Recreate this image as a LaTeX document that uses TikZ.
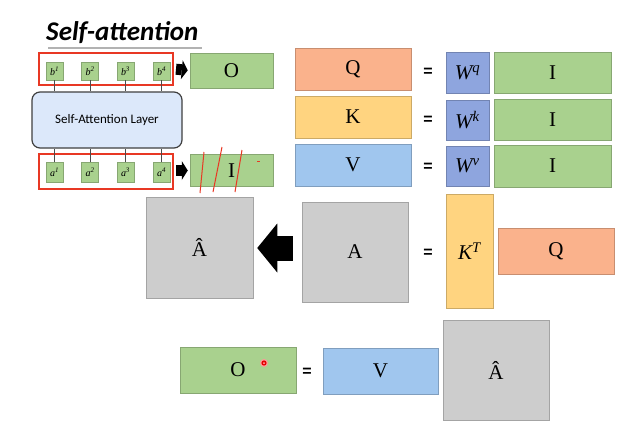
\documentclass[tikz,border=0pt]{standalone}
\usepackage{fontspec}
\usetikzlibrary{arrows.meta,calc}
\newfontfamily\carlito{Carlito}
\newfontfamily\serifmat{Liberation Serif}
\newfontfamily\eqfont{Liberation Sans}
\definecolor{cgreen}{RGB}{169,209,142}
\definecolor{corange}{RGB}{250,178,140}
\definecolor{cyellow}{RGB}{255,212,128}
\definecolor{cblue}{RGB}{160,198,238}
\definecolor{cwblue}{RGB}{142,165,222}
\definecolor{cgray}{RGB}{205,205,205}
\definecolor{clayer}{RGB}{220,232,250}
\definecolor{cred}{RGB}{232,56,36}
\newcommand{\supit}[2]{{\itshape #1}\textsuperscript{\itshape #2}}
\begin{document}
\begin{tikzpicture}[x=1pt,y=-1pt,
  mat/.style={draw=#1!80!black, fill=#1, line width=0.5pt, inner sep=0pt,
    font=\serifmat\fontsize{21}{21}\selectfont},
  vec/.style={draw=cgreen!80!black, fill=cgreen, line width=0.4pt, inner sep=0pt,
    minimum width=17pt, font=\serifmat\fontsize{10}{10}\selectfont},
  eqsign/.style={font=\eqfont\fontsize{16}{16}\selectfont\bfseries, inner sep=0pt},
  redframe/.style={draw=cred, line width=2pt, inner sep=0pt},
  blockarrow/.style={line width=11pt, -{Triangle[length=6pt,width=19pt,line width=0pt]}, shorten <=2pt, shorten >=2pt},
  bigarrow/.style={line width=25pt, -{Triangle[length=20pt,width=49pt,line width=0pt]}},
  slash/.style={draw=cred, line width=1pt}
]
\useasboundingbox[fill=white] (0,0) rectangle (641,431);

% title
\node[anchor=base west, inner sep=0pt, font=\carlito\fontsize{27}{27}\selectfont\bfseries\itshape] (title) at (46,41) {Self-attention};
\draw[gray!60, line width=1.5pt] (48,48) -- (202,48);

% self-attention layer
\node[draw=black!75, fill=clayer, line width=1.2pt, rounded corners=8pt,
  minimum width=150pt, minimum height=56pt, inner sep=0pt,
  font=\carlito\fontsize{13}{13}\selectfont] (layer) at (107,120) {Self-Attention Layer};

% input / output vectors
\node[redframe, minimum width=134pt, minimum height=32pt] (rtop) at (106,69) {};
\node[redframe, minimum width=134pt, minimum height=35pt] (rbot) at (106,171.5) {};
\foreach \i/\x in {1/54.5,2/90,3/125.5,4/161.5}{
  \node[vec, minimum height=18pt] (b\i) at (\x,71) {\supit{b}{\i}};
  \node[vec, minimum height=20pt] (a\i) at (\x,172.5) {\supit{a}{\i}};
  \draw[line width=0.6pt, black!70] (b\i.south) -- (b\i.south |- layer.north);
  \draw[line width=0.6pt, black!70] (a\i.north) -- (a\i.north |- layer.south);
}

% O and I
\node[mat=cgreen, minimum width=83pt, minimum height=35pt] (O1) at (231.5,70.5) {O};
\node[mat=cgreen, minimum width=83pt, minimum height=32pt] (I0) at (231.5,170.5) {I};
\draw[blockarrow] (rtop.east) -- (O1.west);
\draw[blockarrow] (rbot.east |- I0.west) -- (I0.west);
\draw[slash] (200,193) -- (204,152);
\draw[slash] (213,192) -- (222,147);
\draw[slash] (235,192) -- (242,150);
\draw[slash, line width=0.8pt] (257,161) -- (260,161);

% Q K V
\node[mat=corange, minimum width=116pt, minimum height=42pt] (Q) at (353,69) {Q};
\node[mat=cyellow, minimum width=116pt, minimum height=42pt] (K) at (353,117) {K};
\node[mat=cblue, minimum width=116pt, minimum height=42pt] (V) at (353,165) {V};
\node[eqsign] (e1) at (428,72) {=};
\node[eqsign] (e2) at (428,120) {=};
\node[eqsign] (e3) at (428,167) {=};
\node[mat=cwblue, minimum width=43pt, minimum height=41pt] (Wq) at (467.5,72.5) {\supit{W}{q}};
\node[mat=cwblue, minimum width=43pt, minimum height=40pt] (Wk) at (467.5,120) {\supit{W}{k}};
\node[mat=cwblue, minimum width=43pt, minimum height=40pt] (Wv) at (467.5,166) {\supit{W}{v}};
\node[mat=cgreen, minimum width=117pt, minimum height=41pt] (I1) at (552.5,72.5) {I};
\node[mat=cgreen, minimum width=117pt, minimum height=41pt] (I2) at (552.5,119.5) {I};
\node[mat=cgreen, minimum width=117pt, minimum height=42pt] (I3) at (552.5,166) {I};

% attention
\node[mat=cgray, minimum width=107pt, minimum height=101pt] (Ah) at (199.5,247.5) {Â};
\node[mat=cgray, minimum width=106pt, minimum height=100pt] (A) at (355,252) {A};
\draw[bigarrow, shorten <=9pt, shorten >=4pt] (A.west |- 0,248) -- (Ah.east |- 0,248);
\node[eqsign] (e4) at (428,253) {=};
\node[mat=cyellow, minimum width=47pt, minimum height=114pt] (KT) at (469.5,251) {\supit{K}{T}};
\node[mat=corange, minimum width=116pt, minimum height=46pt] (Q2) at (556,251) {Q};

% output
\node[mat=cgreen, minimum width=116pt, minimum height=46pt] (O2) at (238,370) {O};
\fill[red!40!white] (264,363) circle (4pt);
\fill[red!90!black] (264,363) circle (2.6pt);
\fill[white!70!red] (264,363) circle (1pt);
\node[eqsign] (e5) at (307,372) {=};
\node[mat=cblue, minimum width=115pt, minimum height=46pt] (V2) at (380.5,371) {V};
\node[mat=cgray, minimum width=106pt, minimum height=100pt] (Ah2) at (496,370) {Â};
\end{tikzpicture}
\end{document}
